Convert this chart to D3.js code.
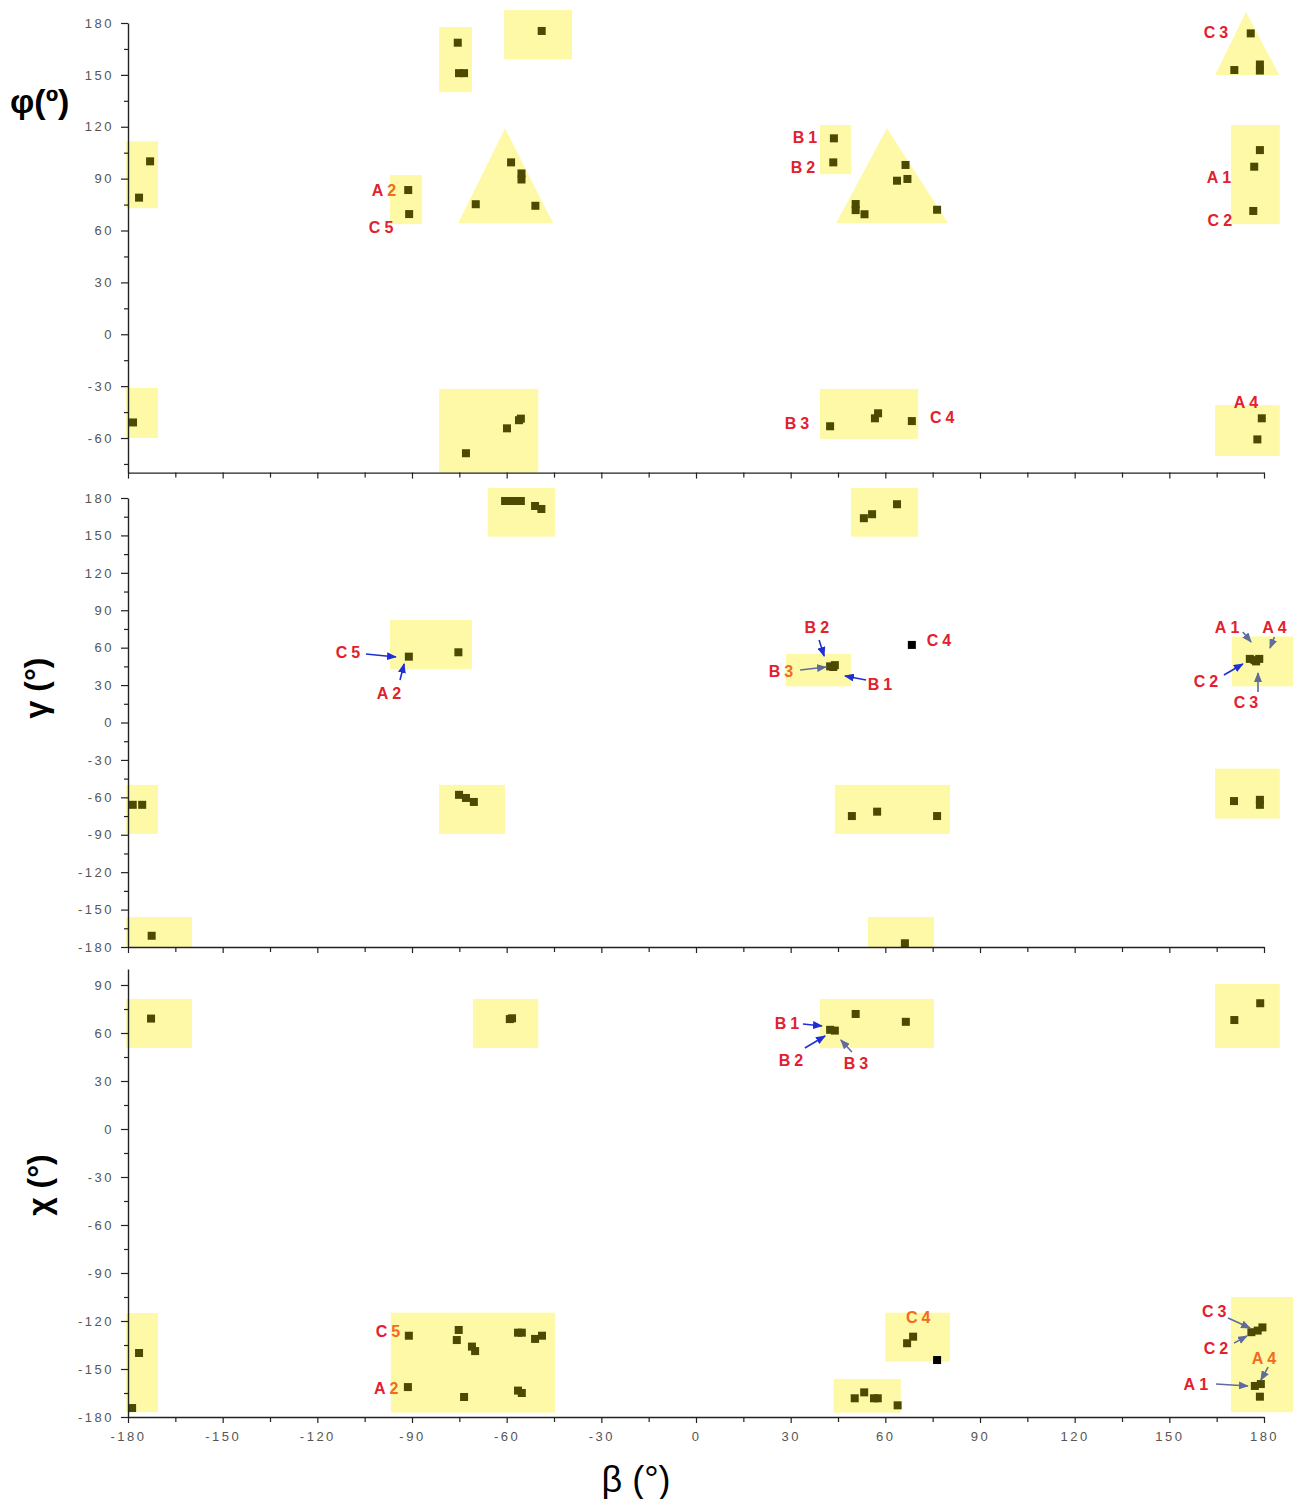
<!DOCTYPE html>
<html><head><meta charset="utf-8">
<script src="https://cdn.jsdelivr.net/npm/d3@7"></script>
<style>body{margin:0;background:#fff}text{font-family:Arial,"Liberation Sans",sans-serif}</style>
</head><body>
<svg id="c" width="1293" height="1499"></svg>
<script>
// ---------------- data ----------------
const xTickValues = [-180,-150,-120,-90,-60,-30,0,30,60,90,120,150,180];

const phiTicks   = [-60,-30,0,30,60,90,120,150,180];
const gammaTicks = [-180,-150,-120,-90,-60,-30,0,30,60,90,120,150,180];
const chiTicks   = [-180,-150,-120,-90,-60,-30,0,30,60,90];

// [beta, phi]
const phiPoints = [
  [-173,100],[-176.5,79],[-178.4,-51],
  [-75.5,168.6],[-75.1,151],[-73.5,151],
  [-48.9,175.4],
  [-91.2,83.4],[-90.9,69.5],
  [-58.6,99.4],[-55.3,93],[-55.3,89.5],[-69.8,75.2],[-50.9,74.3],
  [43.7,113.3],[43.5,99.4],
  [66.4,97.9],[63.7,88.8],[67,89.8],[50.6,75.3],[50.6,71.8],[53.4,69.4],[76.4,72],
  [175.8,174],[170.6,152.8],[178.7,156],[178.7,152.5],
  [178.7,106.5],[176.9,96.9],[176.6,71.3],
  [-72.9,-68.8],[-59.9,-54.4],[-56.1,-49.7],[-55.5,-48.8],
  [42.5,-53.2],[56.7,-48.6],[57.7,-45.7],[68.4,-50.2],
  [179.3,-48.6],[177.9,-60.8]
];
// [beta, gamma]
const gammaPoints = [
  [-178.5,-66],[-175.5,-66],[-172.5,-171],
  [-75.1,-58],[-72.9,-60.5],[-70.4,-63.7],
  [-91,52.8],[-75.3,56.3],
  [-60.5,177.6],[-58,177.6],[-55.5,177.6],[-51,173.6],[-49,171.2],
  [53.2,163.8],[55.8,167],[63.7,175],
  [42.5,45],[43.5,44.5],[44,46],
  [175.5,51],[177,50],[178.5,51],[177.5,49],
  [49.4,-75],[57.4,-71.5],[76.4,-75],
  [170.5,-63],[178.7,-62],[178.7,-66],
  [66.2,-177]
];
const gammaBlack = [[68.4,62.2]];
// [beta, chi]
const chiPoints = [
  [-172.7,69],[-176.5,-140],[-178.7,-174.4],
  [-59,68.7],[-58.3,69.2],
  [42.5,62],[44,61.5],
  [50.6,71.9],[66.5,67],
  [170.6,68.1],[178.8,78.6],
  [-91,-129.2],[-91.3,-161.3],
  [-75.2,-125.6],[-75.8,-131.9],[-71,-136],[-70,-138.8],
  [-73.5,-167.5],
  [-56.4,-127.3],[-55.2,-127.3],[-51,-131.2],[-48.8,-129.2],
  [-56.4,-163.5],[-55.2,-165],
  [50.3,-168.3],[53.3,-164.6],[56.4,-168.3],[57.6,-168.3],[63.9,-172.7],
  [66.9,-133.9],[68.8,-129.8],
  [176,-127],[178,-126],[179.5,-124],
  [177.1,-160.6],[179,-159.4],[178.7,-167.3]
];
const chiBlack = [[76.4,-144.4]];

// highlighted regions [beta0, beta1, v0, v1]
const phiRects = [
  [-180.6,-170.5,72.9,111.6],[-180.6,-170.5,-60,-31],
  [-81.4,-71,140,177.7],[-60.8,-39.3,159,187.5],
  [-97,-86.8,63.7,92],[39.3,49.1,92.6,121],
  [169.5,185,63.7,121],[-81.4,-50,-80,-31.6],
  [39.3,70.4,-60.5,-31.6],[164.5,185,-70.4,-41]
];
// triangles [apexBeta, apexV, baseBeta0, baseBeta1, baseV]
const phiTriangles = [
  [-60.5,119.2,-75.4,-45.3,64.2],
  [60.5,119.2,44.4,79.9,64.2],
  [174.3,186.4,164.5,184.8,150]
];
const gammaRects = [
  [-180.6,-170.5,-89.4,-50],[-180.6,-159.7,-180,-156],
  [-81.4,-60.5,-89.4,-50],[-97,-71,42.7,82.2],
  [-66,-44.7,149,188],[49.1,70.4,149,188],
  [28.5,49.1,29,55],[169.8,189.2,29,69],
  [44,80.5,-89.4,-50],[164.5,185,-77,-37],
  [54.5,75.4,-180,-156]
];
const chiRects = [
  [-180.6,-159.7,50.6,81.3],[-70.7,-50,50.6,81.3],
  [39.3,75.4,50.6,81.3],[164.5,185,50.6,90.6],
  [-180.6,-170.5,-115,-177],[-96.7,-44.7,-114.8,-177.3],
  [43.6,64.9,-156.2,-177.3],[60,80.5,-114.8,-145.4],
  [169.5,189.2,-105,-177]
];

// labels [letter, digit, beta, v, accent]  accent: "" none, "d" digit, "a" all
const phiLabels = [
  ["C","3",164.8,174.8,""],["B","1",34.5,114,""],["B","2",33.9,96.7,""],
  ["A","2",-98.9,83.4,"d"],["C","5",-99.8,62,""],["A","1",165.7,91,""],
  ["C","2",166,66,""],["B","3",32,-51.3,""],["C","4",78,-47.9,""],
  ["A","4",174.3,-39.2,""]
];
const gammaLabels = [
  ["C","5",-110.3,56.5,""],["A","2",-97.3,23.7,""],["B","2",38.3,76.6,""],
  ["B","3",26.9,41.3,"d"],["B","1",58.3,30.9,""],["C","4",77,66.1,""],
  ["A","1",168.3,76.6,""],["A","4",183.3,76.6,""],["C","2",161.6,33.3,""],
  ["C","3",174.3,16.4,""]
];
const chiLabels = [
  ["B","1",28.8,66.3,""],["B","2",30.1,43.1,""],["B","3",50.7,41.3,""],
  ["C","5",-97.6,-126.3,"d"],["A","2",-98.2,-161.9,"d"],["C","4",70.4,-117.5,"a"],
  ["C","3",164.2,-113.8,""],["C","2",164.8,-136.9,""],["A","4",180,-143.1,"a"],
  ["A","1",158.4,-159.4,""]
];
// arrows [beta0, v0, beta1, v1, kind]  kind: "b" blue, "s" slate
const gammaArrows = [
  [-104.6,54.9,-95.1,52.5,"b"],[-93.8,34.1,-92.5,46.9,"b"],
  [39,66.1,40.6,53.3,"b"],[33,42.1,41.2,44.5,"s"],[53.9,34.1,47.2,37.3,"b"],
  [173.3,72.6,175.9,64.5,"s"],[183.3,68.5,181.9,59.7,"s"],
  [167.3,38.1,173.3,46.9,"b"],[178.1,24.5,178.1,39.7,"s"]
];
const chiArrows = [
  [33.9,65.6,39.9,64.4,"b"],[34.5,50.6,40.9,58.1,"b"],[49.4,48.1,45.9,55.6,"s"],
  [168.6,-118.1,175.6,-124.4,"s"],[170.5,-133.8,174.6,-129.4,"s"],
  [181.3,-148.8,179,-156.9,"s"],[164.8,-159.4,174.9,-160.6,"s"]
];

// ---------------- drawing ----------------
const RED = "#e3202e", ORANGE = "#f26a1f", YELLOW = "#fdf9a6", OLIVE = "#4c4a00";
const svg = d3.select("#c");
const defs = svg.append("defs");
[["b","#1f2fd6"],["s","#5f6c9e"]].forEach(([k,c]) => {
  defs.append("marker").attr("id","arr-"+k).attr("viewBox","0 0 10 8")
    .attr("refX",9).attr("refY",4).attr("markerWidth",10).attr("markerHeight",8)
    .attr("markerUnits","userSpaceOnUse").attr("orient","auto")
    .append("path").attr("d","M0,0L10,4L0,8Z").attr("fill",c);
});
const arrowColor = {b:"#1f2fd6", s:"#5f6c9e"};
const fmt = d => String(d);

const x = d3.scaleLinear().domain([-180,180]).range([128,1264]);

const panels = [
  {y: d3.scaleLinear().domain([-80,180]).range([472.6,23]), ticks: phiTicks,
   minor: d3.range(-75,180,30), pts: phiPoints, black: [], rects: phiRects, tris: phiTriangles,
   labels: phiLabels, arrows: [], xlabels: false},
  {y: d3.scaleLinear().domain([-180,180]).range([947,498]), ticks: gammaTicks,
   minor: d3.range(-165,180,30), pts: gammaPoints, black: gammaBlack, rects: gammaRects, tris: [],
   labels: gammaLabels, arrows: gammaArrows, xlabels: false},
  {y: d3.scaleLinear().domain([-180,100]).range([1417,969]), ticks: chiTicks,
   minor: d3.range(-165,90,30), pts: chiPoints, black: chiBlack, rects: chiRects, tris: [],
   labels: chiLabels, arrows: chiArrows, xlabels: true}
];

const S = 8; // marker size
panels.forEach(p => {
  const g = svg.append("g");
  const y = p.y;
  g.selectAll(".r").data(p.rects).join("rect")
    .attr("x", d => x(d[0])).attr("width", d => x(d[1]) - x(d[0]))
    .attr("y", d => y(Math.max(d[2],d[3]))).attr("height", d => Math.abs(y(d[2]) - y(d[3])))
    .attr("fill", YELLOW);
  g.selectAll(".t").data(p.tris).join("path")
    .attr("d", d => `M${x(d[0])},${y(d[1])}L${x(d[3])},${y(d[4])}L${x(d[2])},${y(d[4])}Z`)
    .attr("fill", YELLOW);
  g.selectAll(".p").data(p.pts).join("rect")
    .attr("x", d => x(d[0]) - S/2).attr("y", d => y(d[1]) - S/2)
    .attr("width", S).attr("height", S).attr("fill", OLIVE);
  g.selectAll(".k").data(p.black).join("rect")
    .attr("x", d => x(d[0]) - S/2).attr("y", d => y(d[1]) - S/2)
    .attr("width", S).attr("height", S).attr("fill", "#000");
  g.selectAll(".a").data(p.arrows).join("line")
    .attr("x1", d => x(d[0])).attr("y1", d => y(d[1]))
    .attr("x2", d => x(d[2])).attr("y2", d => y(d[3]))
    .attr("stroke", d => arrowColor[d[4]]).attr("stroke-width", 1.6)
    .attr("marker-end", d => `url(#arr-${d[4]})`);
  p.labels.forEach(d => {
    const t = g.append("text").attr("x", x(d[2]) + 2).attr("y", y(d[3])).attr("dy","0.36em")
      .attr("text-anchor","middle").attr("font-size",16).attr("font-weight","bold")
      .attr("letter-spacing","4px");
    t.append("tspan").text(d[0]).attr("fill", d[4]==="a" ? ORANGE : RED);
    t.append("tspan").text(d[1]).attr("fill", d[4] ? ORANGE : RED);
  });
  const ya = g.append("g").attr("transform","translate(128,0)")
    .call(d3.axisLeft(y).tickValues(p.ticks).tickSize(7).tickPadding(7).tickSizeOuter(0).tickFormat(fmt));
  ya.select(".domain").attr("stroke","#222").attr("stroke-width",1.4);
  ya.selectAll(".tick line").attr("stroke","#222").attr("stroke-width",1.2);
  ya.selectAll(".tick text").attr("font-size",13).attr("fill","#555")
    .attr("letter-spacing","2.5px").attr("font-family","Arial, 'Liberation Sans', sans-serif");
  const ym = g.append("g").attr("transform","translate(128,0)")
    .call(d3.axisLeft(y).tickValues(p.minor).tickSize(4).tickFormat(""));
  ym.select(".domain").remove();
  ym.selectAll(".tick line").attr("stroke","#222").attr("stroke-width",1.2);
  const y0 = y.range()[0];
  const xa = g.append("g").attr("transform",`translate(0,${y0})`)
    .call(d3.axisBottom(x).tickValues(xTickValues).tickSize(6).tickPadding(9).tickSizeOuter(0)
      .tickFormat(p.xlabels ? fmt : ""));
  xa.select(".domain").attr("stroke","#222").attr("stroke-width",1.4);
  xa.selectAll(".tick line").attr("stroke","#222").attr("stroke-width",1.2);
  xa.selectAll(".tick text").attr("font-size",13).attr("fill","#555")
    .attr("letter-spacing","2.5px").attr("font-family","Arial, 'Liberation Sans', sans-serif");
  const xm = g.append("g").attr("transform",`translate(0,${y0})`)
    .call(d3.axisBottom(x).tickValues(d3.range(-165,180,30)).tickSize(5).tickFormat(""));
  xm.select(".domain").remove();
  xm.selectAll(".tick line").attr("stroke","#222").attr("stroke-width",1.2);
});

// axis titles
const serif = "'Liberation Serif','Times New Roman',serif";
svg.append("text").attr("x",10).attr("y",113).attr("font-family",serif)
  .attr("font-weight","bold").attr("font-size",34).attr("fill","#000").text("φ(º)");
svg.append("text").attr("transform","translate(47,688) rotate(-90)").attr("text-anchor","middle")
  .attr("font-family",serif).attr("font-weight","bold").attr("font-size",32).text("γ (°)");
svg.append("text").attr("transform","translate(50,1185) rotate(-90)").attr("text-anchor","middle")
  .attr("font-family",serif).attr("font-weight","bold").attr("font-size",32).text("χ (°)");
svg.append("text").attr("x",636).attr("y",1492).attr("text-anchor","middle")
  .attr("font-family",serif).attr("font-size",36).text("β (°)");
</script>
</body></html>
